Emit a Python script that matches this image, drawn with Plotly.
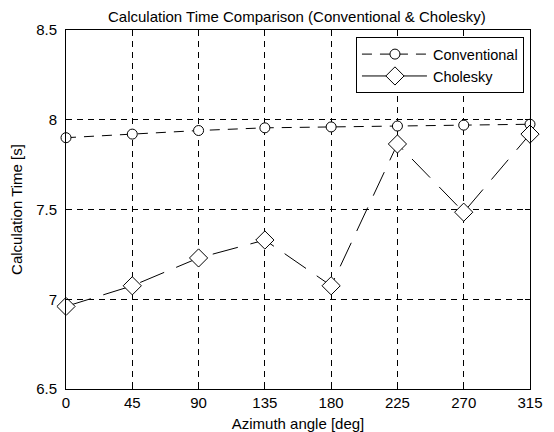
import plotly.graph_objects as go

angles = [0, 45, 90, 135, 180, 225, 270, 315]
conventional = [7.90, 7.92, 7.94, 7.955, 7.96, 7.965, 7.97, 7.975]
cholesky = [6.96, 7.075, 7.23, 7.33, 7.075, 7.865, 7.485, 7.92]
x_ticks = [0, 45, 90, 135, 180, 225, 270, 315]
y_ticks = [6.5, 7, 7.5, 8, 8.5]

FONT = "Liberation Sans, Arial, sans-serif"
FS = 15
W, H = 546, 424  # page body adds an 8px margin

fig = go.Figure()
fig.add_trace(go.Scatter(
    x=angles, y=conventional, name="Conventional", mode="lines+markers",
    line=dict(color="black", width=1, dash="10px,8px"),
    marker=dict(symbol="circle", size=10, color="white", line=dict(width=1, color="black")),
    cliponaxis=False,
))
fig.add_trace(go.Scatter(
    x=angles, y=cholesky, name="Cholesky", mode="lines+markers",
    line=dict(color="black", width=1, dash="26px,13px"),
    marker=dict(symbol="diamond", size=14, color="white", line=dict(width=1, color="black")),
    cliponaxis=False,
))

axis_common = dict(
    showline=True, linecolor="black", linewidth=1, mirror="ticks",
    ticks="inside", ticklen=5, tickcolor="black",
    showgrid=True, gridcolor="black", gridwidth=1, griddash="6px,5px",
    zeroline=False, automargin=False,
    tickfont=dict(family=FONT, size=FS, color="black"),
)

fig.update_xaxes(range=[0, 315], tickvals=x_ticks,
                 title=dict(text="Azimuth angle [deg]", font=dict(family=FONT, size=FS, color="black"), standoff=8),
                 **axis_common)
fig.update_yaxes(range=[6.5, 8.5], tickvals=y_ticks, ticktext=[str(v) for v in y_ticks],
                 ticklabelstandoff=5,
                 title=dict(text="Calculation Time [s]", font=dict(family=FONT, size=FS, color="black"), standoff=12),
                 **axis_common)

fig.update_layout(
    width=W, height=H,
    margin=dict(l=58, r=24, t=22, b=43),
    paper_bgcolor="white", plot_bgcolor="white",
    title=dict(text="Calculation Time Comparison (Conventional & Cholesky)",
               font=dict(family=FONT, size=FS, color="black"),
               x=0.529, xanchor="center", y=1 - 9 / H, yanchor="middle"),
    legend=dict(x=0.987, y=0.98, xanchor="right", yanchor="top",
                bgcolor="white", bordercolor="black", borderwidth=1,
                font=dict(family=FONT, size=14.5, color="black"),
                tracegroupgap=0, itemwidth=66),
    showlegend=True,
)

fig.write_html("out.html")
